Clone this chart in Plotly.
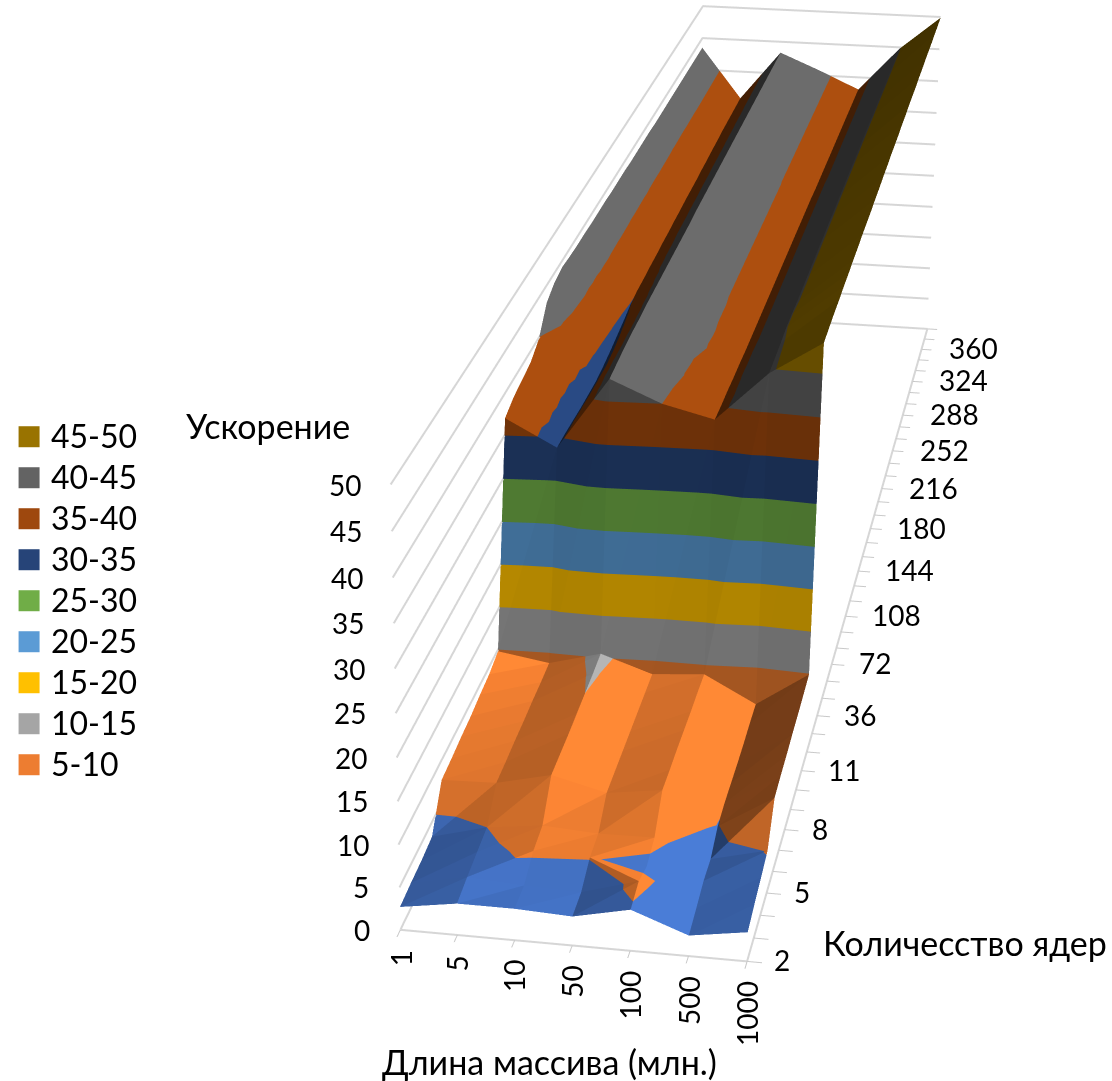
import numpy as np
import plotly.graph_objects as go

x_labels = ["1", "5", "10", "50", "100", "500", "1000"]
core_labels = ["2", "5", "8", "11", "36", "72", "108", "144", "180", "216", "252", "288", "324", "360"]
z_ticks = [0, 5, 10, 15, 20, 25, 30, 35, 40, 45, 50]
legend_names = ["45-50", "40-45", "35-40", "30-35", "25-30", "20-25", "15-20", "10-15", "5-10"]
legend_colors = ["#997300", "#636363", "#9E480E", "#264478", "#70AD47", "#5B9BD5", "#FFC000", "#A5A5A5", "#ED7D31"]
band_colors = ["#4472C4", "#ED7D31", "#A5A5A5", "#FFC000", "#5B9BD5", "#70AD47", "#264478", "#9E480E", "#636363", "#997300"]

z_len_1 = [2.7,2.9,3.0,3.3,7.7,7.9,8.2,8.4,8.8,9.1,9.8,37,37.8,38.2,38.6,39.8,42.8,43.8,44.2,44,43.9,43.9,43.8,43.8,43.8,43.7,43.7,43.7,43.6,43.6,43.6,43.6,43.5,43.5,43.5,43.5,43.5,43.5,43.5,43.5,43.5,43.5]
z_len_5 = [3.7,4.2,4.6,5.0,7.9,8.0,8.2,8.3,8.5,8.6,8.8,33.8,33.7,33.5,33.3,33.2,33.1,33.3,33.6,34,34.4,34.9,35.1,35.1,35.2,35.2,35.3,35.3,35.4,35.4,35.5,35.5,35.5,35.6,35.6,35.7,35.7,35.8,35.8,35.8,35.8,35.8]
z_len_10 = [3.7,3.8,5.3,5.8,9.4,9.5,9.6,9.8,10,10.2,10.5,42.6,42.8,43,43.1,43.1,43.2,43.2,43.2,43.2,43.2,43.2,43.2,43.2,43.3,43.3,43.3,43.3,43.3,43.3,43.3,43.3,43.3,43.3,43.3,43.3,43.3,43.3,43.3,43.3,43.3,43.3]
z_len_50 = [3.4,3.6,5.1,5.4,7.8,7.9,8.0,8.1,8.2,8.3,8.4,40.0,40.1,40.3,40.4,40.9,41,40.9,40.9,40.8,40.8,40.8,40.8,40.8,40.8,40.8,40.8,40.8,40.8,40.8,40.8,40.8,40.8,40.8,40.8,40.8,40.8,40.8,40.8,40.8,40.8,40.8]
z_len_100 = [4.8,5.5,4.6,5.5,8.7,8.7,8.8,8.8,8.8,8.9,8.9,38.5,38.4,38.4,38.3,38.3,38.2,38.2,38.2,38.2,38.2,38.2,38.2,38.2,38.2,38.2,38.2,38.2,38.2,38.2,38.1,38.1,38.1,38.1,38.1,38.1,38.1,38.1,38.1,38.1,38.1,38.1]
z_len_500 = [2.4,2.9,3.5,3.5,4.9,5.2,5.2,5.2,5.3,5.5,5.6,44.5,44.6,44.7,44.9,44.9,44.8,44.8,44.8,44.8,44.8,44.8,44.8,44.8,44.8,44.8,44.8,44.8,44.8,44.8,44.8,44.8,44.8,44.8,44.8,44.8,44.8,44.8,44.8,44.8,44.8,44.8]
z_len_1000 = [3.4,4,4.5,5.1,8.9,9.1,9.2,9.4,9.5,9.7,9.9,48.5,48.6,48.7,48.7,48.8,48.8,48.9,48.9,49,49,49,49.1,49.1,49.2,49.2,49.3,49.3,49.3,49.4,49.4,49.5,49.5,49.5,49.6,49.6,49.7,49.7,49.7,49.8,49.8,49.9]

columns = [z_len_1, z_len_5, z_len_10, z_len_50, z_len_100, z_len_500, z_len_1000]
assert all(len(c) == 42 for c in columns)
Z = np.array(columns, float)
nx, ny = Z.shape

# quads whose split runs along the other diagonal in the reference
FLIPPED = {(3, 1)}

# camera and page framing: the excel chart has a long lens, so the scene is larger than the window
W, H = 1112, 1081
FOCAL = 3400.0
EYE = (0.7459, -5.3137, 1.9196)
CENTER = (-0.0820, -0.6513, -0.0706)
UP = (-0.1623, 0.8836, 1.0)
ASPECT = (0.4766, 2.6845, 0.6511)
PRINCIPAL = (603.93, 572.27)

HH = int(round(2 * FOCAL / 2.41421))
WW = HH
ox = WW / 2 - PRINCIPAL[0]
oy = HH / 2 - PRINCIPAL[1]
PX = lambda v: (v + ox) / WW
PY = lambda v: 1 - (v + oy) / HH

UNIT = np.array([ASPECT[0] / 6, ASPECT[1] / 41, ASPECT[2] / 50])


def shade(a, b, c):
    n = np.cross((b - a) * UNIT, (c - a) * UNIT)
    n = n / np.linalg.norm(n)
    if n[2] < 0:
        n = -n
    s = 0.97 + 0.70 * n[0] * (1.2 - n[1] ** 2)
    if n[1] < 0:
        s -= 0.30 * n[1] ** 4
    return float(np.clip(s, 0.42, 1.10))


def tint(hex_color, s):
    r, g, b = (int(hex_color[i:i + 2], 16) for i in (1, 3, 5))
    return "rgb(%d,%d,%d)" % (min(255, r * s), min(255, g * s), min(255, b * s))


def clip(poly, level, keep_above):
    out = []
    for m in range(len(poly)):
        p, q = poly[m], poly[(m + 1) % len(poly)]
        ip = (p[2] >= level) if keep_above else (p[2] <= level)
        iq = (q[2] >= level) if keep_above else (q[2] <= level)
        if ip:
            out.append(p)
        if ip != iq:
            out.append(p + (q - p) * (level - p[2]) / (q[2] - p[2]))
    return out


xs, ys, zs, I, J, K, FC = [], [], [], [], [], [], []


def add_triangle(a, b, c):
    s = shade(a, b, c)
    for n, col in enumerate(band_colors):
        poly = clip([a, b, c], n * 5.0, True)
        if len(poly) >= 3:
            poly = clip(poly, (n + 1) * 5.0, False)
        if len(poly) < 3:
            continue
        base = len(xs)
        for v in poly:
            xs.append(float(v[0])); ys.append(float(v[1])); zs.append(float(v[2]))
        fc = tint(col, s)
        for m in range(1, len(poly) - 1):
            I.append(base); J.append(base + m); K.append(base + m + 1); FC.append(fc)


for a in range(nx - 1):
    for b in range(ny - 1):
        p00 = np.array([a, b, Z[a, b]], float)
        p01 = np.array([a, b + 1, Z[a, b + 1]], float)
        p10 = np.array([a + 1, b, Z[a + 1, b]], float)
        p11 = np.array([a + 1, b + 1, Z[a + 1, b + 1]], float)
        if (a, b) in FLIPPED:
            add_triangle(p00, p10, p01)
            add_triangle(p10, p11, p01)
        else:
            add_triangle(p00, p10, p11)
            add_triangle(p00, p11, p01)

fig = go.Figure()
fig.add_trace(go.Mesh3d(x=xs, y=ys, z=zs, i=I, j=J, k=K, facecolor=FC, flatshading=True,
                        showlegend=False, hoverinfo="skip",
                        lighting=dict(ambient=1.0, diffuse=0.0, specular=0.0, roughness=1, fresnel=0)))

# wall gridlines and floor edges as thick lines (native 3D gridlines stay one pixel wide)
gx, gy, gz = [], [], []
for t in z_ticks:
    gx += [0, 0, 6, None]; gy += [0, 41, 41, None]; gz += [t, t, t, None]
gx += [0, 6, 6, None]; gy += [0, 0, 41, None]; gz += [0, 0, 0, None]
fig.add_trace(go.Scatter3d(x=gx, y=gy, z=gz, mode="lines", line=dict(color="#d6d6d6", width=4),
                           showlegend=False, hoverinfo="skip", connectgaps=False))

FONT = "Lato, 'Open Sans', sans-serif"
ann = []
for i, t in enumerate(x_labels):
    ann.append(dict(x=i, y=0, z=0, text=t, showarrow=False, textangle=-90, xanchor="center", yanchor="top", yshift=-18))
for i, t in enumerate(core_labels):
    ann.append(dict(x=6, y=i * 3, z=0, text=t, showarrow=False, xanchor="left", xshift=25, yshift=1))
for t in z_ticks:
    ann.append(dict(x=0, y=0, z=t, text=str(t), showarrow=False, xanchor="right", xshift=-28))

ax_common = dict(title=dict(text=""), showbackground=False, showticklabels=False, zeroline=False,
                 showspikes=False, showgrid=False, showline=False,
                 tickcolor="#c8c8c8", tickwidth=2, ticklen=10, autorange=False)
shapes = []
page_ann = []
for n, (name, col) in enumerate(zip(legend_names, legend_colors)):
    yc = 436.5 + 41 * n
    shapes.append(dict(type="rect", xref="paper", yref="paper", x0=PX(19), x1=PX(40), y0=PY(yc + 10.5), y1=PY(yc - 10.5), fillcolor=col, line=dict(width=0)))
    page_ann.append(dict(xref="paper", yref="paper", x=PX(49), y=PY(yc - 1), xanchor="left", yanchor="middle", text=name, showarrow=False, font=dict(size=32)))
for txt, cx, cy in (("Ускорение", 268, 425), ("Длина массива (млн.)", 550, 1061), ("Количесство ядер", 965, 942)):
    page_ann.append(dict(xref="paper", yref="paper", x=PX(cx), y=PY(cy), xanchor="center", yanchor="middle", text=txt, showarrow=False, font=dict(size=34)))

fig.update_layout(
    width=WW, height=HH, margin=dict(l=0, r=0, t=0, b=0), paper_bgcolor="white", plot_bgcolor="white",
    font=dict(family=FONT, size=28, color="black"),
    shapes=shapes, annotations=page_ann, showlegend=False,
    scene=dict(
        domain=dict(x=[0, 1], y=[0, 1]),
        aspectmode="manual", aspectratio=dict(x=ASPECT[0], y=ASPECT[1], z=ASPECT[2]),
        camera=dict(eye=dict(x=EYE[0], y=EYE[1], z=EYE[2]),
                    center=dict(x=CENTER[0], y=CENTER[1], z=CENTER[2]),
                    up=dict(x=UP[0], y=UP[1], z=UP[2]),
                    projection=dict(type="perspective")),
        xaxis=dict(ax_common, range=[0, 6], tickvals=list(range(7)), ticks="outside"),
        yaxis=dict(ax_common, range=[0, 41], tickvals=list(range(42)), ticks="outside"),
        zaxis=dict(ax_common, range=[0, 50], tickvals=z_ticks, ticks=""),
        annotations=ann,
    ),
)
post = ("var g=document.querySelector('.plotly-graph-div');g.style.position='absolute';"
        "g.style.left='%dpx';g.style.top='%dpx';document.body.style.margin='0';"
        "document.documentElement.style.overflow='hidden';document.body.style.overflow='hidden';" % (-round(ox), -round(oy)))
fig.write_html("out.html", post_script=post)
